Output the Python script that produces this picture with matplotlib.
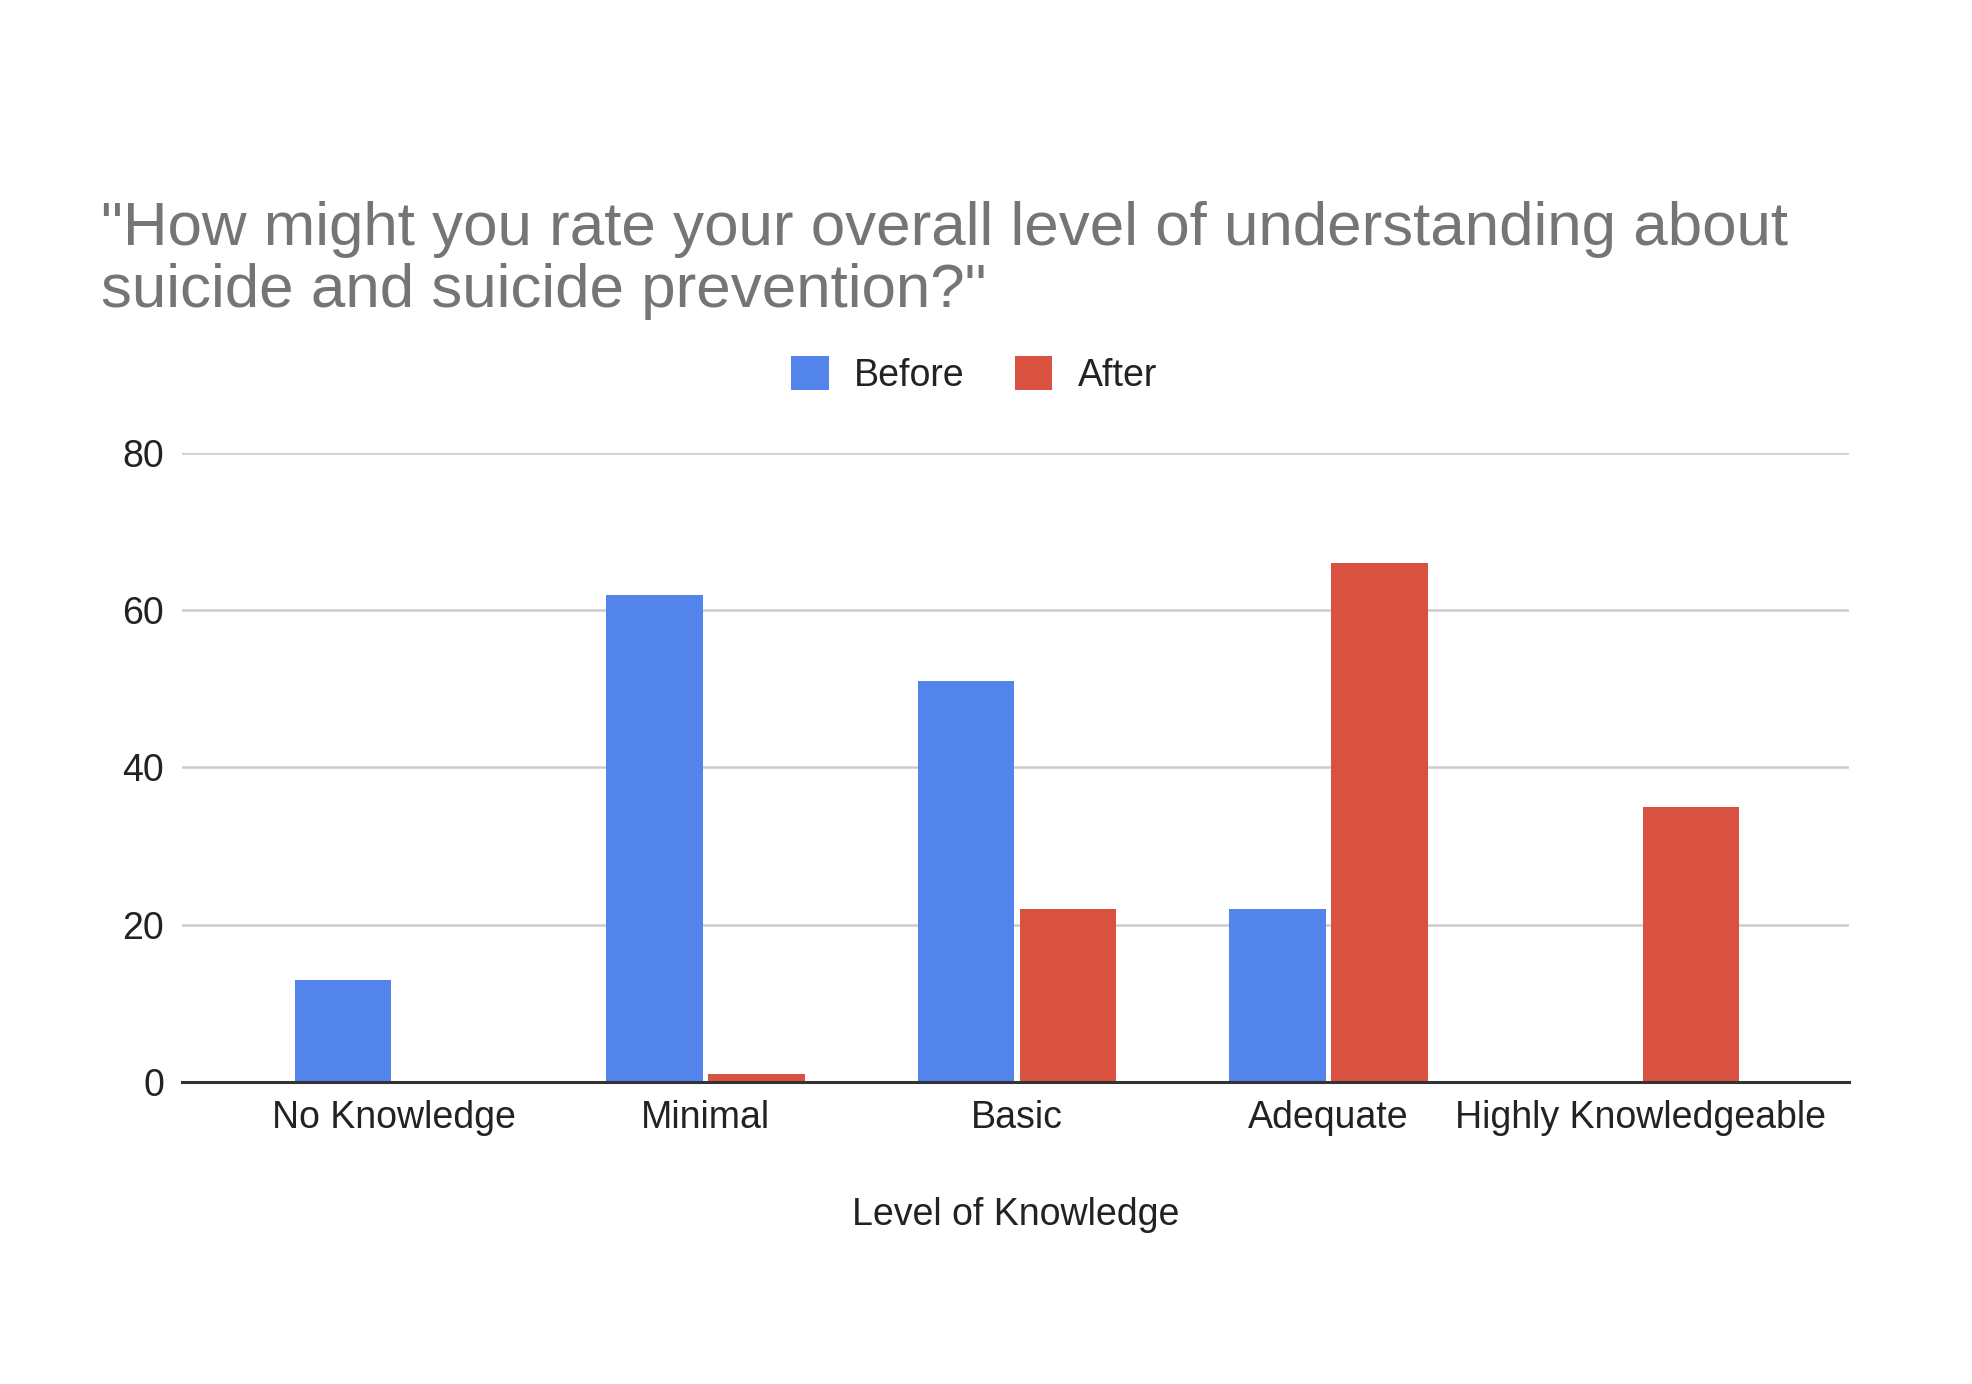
import matplotlib
matplotlib.use("Agg")
import matplotlib.pyplot as plt
import numpy as np

categories = ["No Knowledge", "Minimal", "Basic", "Adequate", "Highly Knowledgeable"]
before = [13, 62, 51, 22, 0]
after = [0, 1, 22, 66, 35]
yticks = [0, 20, 40, 60, 80]
title = "\"How might you rate your overall level of understanding about\nsuicide and suicide prevention?\""

plt.rcParams['font.family'] = ['Liberation Sans', 'DejaVu Sans']

fig = plt.figure(figsize=(19.72, 13.84), dpi=100)
ax = fig.add_axes([0.0925, 0.2182, 0.845, 0.4545])

x = np.arange(len(categories))
w = 0.31
off = 0.164
ax.bar(x - off, before, width=w, color="#5384ec", label="Before", zorder=3)
ax.bar(x + off, after, width=w, color="#d95141", label="After", zorder=3)

ax.set_xlim(-0.68, 4.67)
ax.set_ylim(0, 80)
ax.set_yticks(yticks)
ax.set_xticks(x)
ax.set_xticklabels(categories, fontsize=27, color="#222222")
ax.tick_params(axis='y', labelsize=27, labelcolor="#222222", length=0, pad=13)
ax.tick_params(axis='x', length=0, pad=13)
ax.grid(axis='y', color="#cccccc", linewidth=1.8, zorder=0)
ax.set_axisbelow(True)
for s in ["top", "right", "left"]:
    ax.spines[s].set_visible(False)
ax.spines["bottom"].set_color("#333333")
ax.spines["bottom"].set_linewidth(2.2)
ax.spines["bottom"].set_zorder(4)

ax.set_xlabel("Level of Knowledge", fontsize=27, color="#222222", labelpad=44)

fig.text(0.051, 0.855, title, fontsize=44.6, color="#757575", ha="left", va="top", linespacing=1.12)

leg = fig.legend(loc="center", bbox_to_anchor=(0.494, 0.729), ncol=2, frameon=False,
                 fontsize=27, handlelength=1.0, handleheight=1.0, handletextpad=0.67,
                 columnspacing=1.34)
for t in leg.get_texts():
    t.set_color("#222222")

fig.savefig("out.png", dpi=100, facecolor="white")
